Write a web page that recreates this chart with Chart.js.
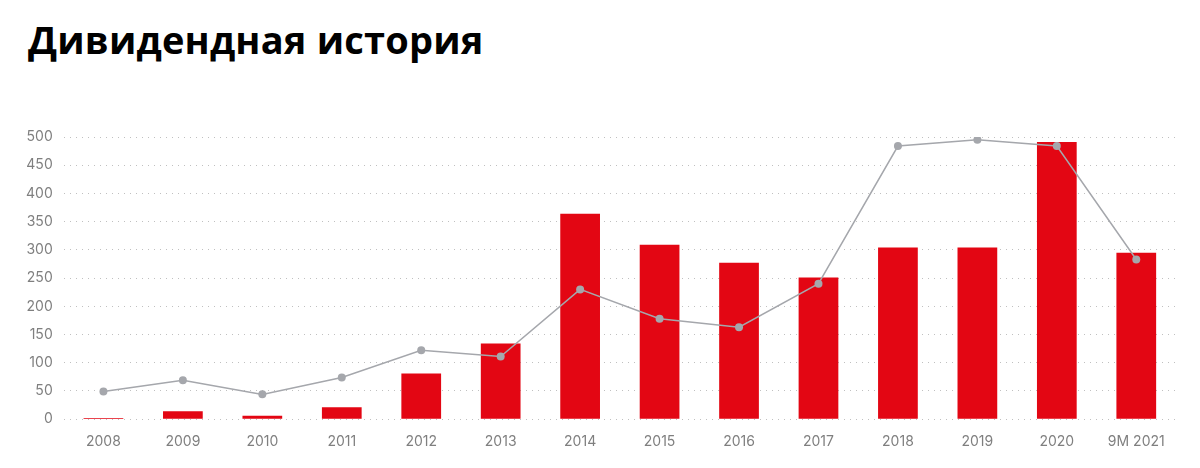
<!DOCTYPE html>
<html>
<head>
<meta charset="utf-8">
<script src="https://cdn.jsdelivr.net/npm/chart.js@4/dist/chart.umd.min.js"></script>
<style>
  html, body { margin: 0; padding: 0; background: #fff; }
  #wrap { position: relative; width: 1200px; height: 468px; }
  h1 { position: absolute; left: 28px; top: 13px; margin: 0; font-family: "Open Sans", sans-serif; font-weight: 700; font-size: 38px; color: #000; letter-spacing: 0.2px; }
  canvas { position: absolute; left: 0; top: 0; }
</style>
</head>
<body>
<div id="wrap">
  <h1>Дивидендная история</h1>
  <canvas id="grafica" width="1200" height="468"></canvas>
</div>
<script>
var anios = ["2008", "2009", "2010", "2011", "2012", "2013", "2014", "2015", "2016", "2017", "2018", "2019", "2020", "9M 2021"];
var barras = [2, 14, 6, 21, 81, 134, 364, 309, 277, 251, 304, 304, 491, 295];
var linea = [49, 69, 44, 74, 122, 111, 230, 178, 163, 240, 484, 495, 484, 283];
var ticksY = [0, 50, 100, 150, 200, 250, 300, 350, 400, 450, 500];

var colores = {
	red: '#e30613',
	grey: '#a5a7ac',
	text: '#7f7f7f',
	grid: '#c0c0c0'
};

var ctx = document.getElementById("grafica");

var grafica = new Chart(ctx, {
	type: 'bar',
	data: {
		labels: anios,
		datasets: [
			{
				type: 'line',
				label: 'linea',
				data: linea,
				borderColor: colores.grey,
				backgroundColor: colores.grey,
				borderWidth: 1.5,
				pointRadius: 4,
				pointHoverRadius: 4,
				pointBorderWidth: 0,
				tension: 0,
				order: 0
			},
			{
				type: 'bar',
				label: 'barras',
				data: barras,
				backgroundColor: colores.red,
				borderWidth: 0,
				categoryPercentage: 1,
				barPercentage: 0.5,
				order: 1
			}
		]
	},
	options: {
		responsive: false,
		animation: false,
		layout: { padding: { top: 137, left: 15, right: 24, bottom: 12 } },
		plugins: {
			legend: { display: false },
			tooltip: { enabled: false },
			title: { display: false }
		},
		scales: {
			x: {
				grid: { display: false },
				border: { display: false },
				ticks: { color: colores.text, font: { family: "Inter", size: 14 }, padding: 6 }
			},
			y: {
				min: 0,
				max: 500,
				afterBuildTicks: function(axis) {
					axis.ticks = ticksY.map(function(v) { return { value: v }; });
				},
				grid: { color: colores.grid, drawTicks: false, lineWidth: 1 },
				border: { display: false, dash: [1, 5] },
				ticks: { color: colores.text, font: { family: "Inter", size: 14 }, padding: 11 }
			}
		}
	}
});
</script>
</body>
</html>
